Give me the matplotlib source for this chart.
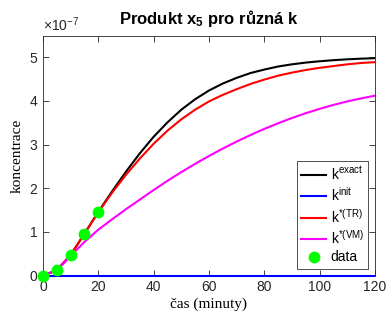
import numpy as np
import matplotlib
matplotlib.use("Agg")
import matplotlib.pyplot as plt
from matplotlib.ticker import ScalarFormatter
from matplotlib.transforms import Bbox, TransformedBbox

plt.rcParams['font.family'] = ['Liberation Sans', 'DejaVu Sans']
plt.rcParams['mathtext.fontset'] = 'custom'
plt.rcParams['mathtext.rm'] = 'Liberation Sans'
plt.rcParams['mathtext.it'] = 'Liberation Sans:italic'
plt.rcParams['mathtext.bf'] = 'Liberation Sans:bold'
plt.rcParams['mathtext.default'] = 'regular'

# time (minutes)
t = np.arange(0, 121, 5)

# concentration of x5 (in units of 1e-7)
k_exact = np.array([0, 0.12, 0.47, 0.96, 1.46, 1.93, 2.38, 2.80, 3.18, 3.51,
                    3.80, 4.04, 4.24, 4.40, 4.53, 4.64, 4.72, 4.79, 4.84, 4.88,
                    4.91, 4.935, 4.955, 4.97, 4.98])
k_init = np.zeros(len(t))
k_tr = np.array([0, 0.12, 0.47, 0.96, 1.45, 1.90, 2.31, 2.68, 3.02, 3.32,
                 3.58, 3.80, 3.99, 4.14, 4.27, 4.39, 4.49, 4.58, 4.65, 4.71,
                 4.76, 4.80, 4.84, 4.87, 4.89])
k_vm = np.array([0, 0.12, 0.45, 0.77, 1.05, 1.29, 1.52, 1.74, 1.96, 2.17,
                 2.37, 2.56, 2.74, 2.91, 3.07, 3.22, 3.36, 3.49, 3.61, 3.72,
                 3.82, 3.91, 3.99, 4.06, 4.12])

# measured data
t_data = np.array([0, 5, 10, 15, 20])
x_data = np.array([0, 0.12, 0.47, 0.96, 1.46])

scale = 1e-7

fig = plt.figure(figsize=(3.89, 3.2), dpi=100)
ax = fig.add_axes([0.1105, 0.139, 0.8535, 0.75])

ax.plot(t, k_exact * scale, color='black', lw=1.5, label=r'k$^{exact}$')
blue, = ax.plot(t, k_init * scale, color='blue', lw=1.5, label=r'k$^{init}$',
                zorder=3)
# let the zero line show fully on top of the bottom spine
blue.set_clip_box(TransformedBbox(Bbox([[0, -0.05], [1, 1]]), ax.transAxes))
ax.plot(t, k_tr * scale, color='red', lw=1.5, label=r'k$^{*(TR)}$')
ax.plot(t, k_vm * scale, color='magenta', lw=1.5, label=r'k$^{*(VM)}$')
ax.plot(t_data, x_data * scale, 'o', color=(0, 1, 0), markersize=7.5,
        label='data', clip_on=False, zorder=5)

ax.set_xlim(0, 120)
ax.set_ylim(0, 5.5e-7)
ax.set_xticks(np.arange(0, 121, 20))
ax.set_yticks(np.arange(0, 6) * scale)

fmt = ScalarFormatter(useMathText=True)
fmt.set_powerlimits((0, 0))
ax.yaxis.set_major_formatter(fmt)
ax.yaxis.get_offset_text().set_fontsize(10)
ax.yaxis.get_offset_text().set_color('#262626')

ax.tick_params(direction='in', top=True, right=True, labelsize=10,
               colors='#262626', length=4, width=0.6)
for s in ax.spines.values():
    s.set_color('#262626')
    s.set_linewidth(0.6)

ax.set_title(r'Produkt $\mathbf{x_5}$ pro různá k', fontsize=12,
             fontweight='bold', pad=8)
ax.set_xlabel('čas (minuty)', family=['Liberation Serif', 'DejaVu Serif'],
              fontsize=11, labelpad=2)
ax.set_ylabel('koncentrace', family=['Liberation Serif', 'DejaVu Serif'],
              fontsize=11, labelpad=4)

leg = ax.legend(loc='lower right', fontsize=10, frameon=True, fancybox=False,
                handlelength=1.8, handletextpad=0.3, borderpad=0.3,
                labelspacing=0.25, borderaxespad=0.5)
leg.get_frame().set_edgecolor('black')
leg.get_frame().set_linewidth(0.6)

fig.savefig('out.png', dpi=100)
